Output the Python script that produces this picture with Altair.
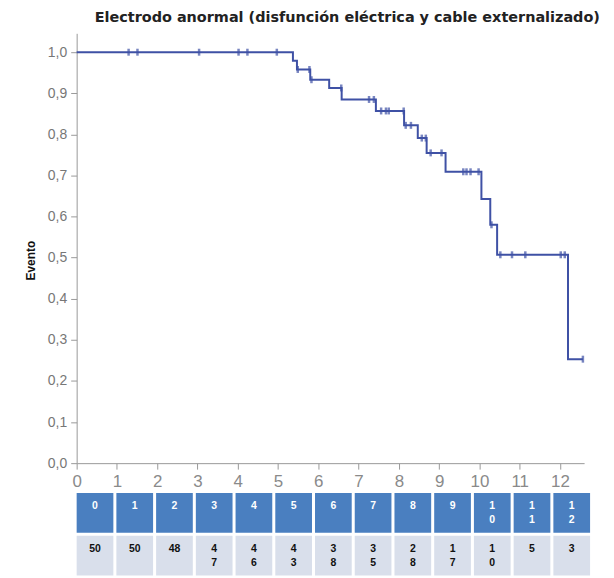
import altair as alt
import pandas as pd

title_text = "Electrodo anormal (disfunción eléctrica y cable externalizado)"
y_title = "Evento"

# Kaplan-Meier step curve (time in years, cumulative probability)
step_times = [0, 5.37, 5.47, 5.80, 6.27, 6.58, 7.43, 8.13, 8.47, 8.69, 9.16,
              10.05, 10.27, 10.44, 12.20, 12.57]
step_surv = [1.0, 0.979, 0.958, 0.933, 0.913, 0.885, 0.857, 0.822, 0.791,
             0.755, 0.709, 0.643, 0.580, 0.507, 0.253, 0.253]

# censored observations
censor_times = [1.29, 1.51, 3.04, 4.02, 4.24, 4.97, 5.49, 5.78, 5.83, 6.57,
                7.26, 7.38, 7.56, 7.68, 7.75, 8.12, 8.17, 8.30, 8.57, 8.67,
                8.79, 9.06, 9.60, 9.68, 9.78, 9.98, 10.30, 10.52, 10.81,
                11.14, 12.02, 12.12, 12.57]

# table under the chart
header_labels = [str(i) for i in range(13)]
at_risk = [50, 50, 48, 47, 46, 43, 38, 35, 28, 17, 10, 5, 3]

x_ticks = list(range(13))
y_ticks = [i / 10 for i in range(11)]

LINE = "#3f51a5"
HEAD = "#4a7fc0"
BODY = "#d9dfeb"


def surv_at(t):
    s = step_surv[0]
    for tt, ss in zip(step_times, step_surv):
        if tt <= t:
            s = ss
    return s


censor_surv = [surv_at(t) for t in censor_times]

km_df = pd.DataFrame({"t": step_times, "s": step_surv})
cens_df = pd.DataFrame({"t": censor_times, "s": censor_surv})


def wrap(txt, col):
    if len(txt) > 1 and col >= 3:
        return "\n".join(list(txt))
    return txt


rows = []
for i, h in enumerate(header_labels):
    rows.append({"col": i, "row": "h", "txt": wrap(h, i)})
for i, v in enumerate(at_risk):
    rows.append({"col": i, "row": "d", "txt": wrap(str(v), i)})
tab_df = pd.DataFrame(rows)

xscale = alt.Scale(domain=[0, 12.6], nice=False, zero=False)
yscale = alt.Scale(domain=[0, 1.046], nice=False)

xaxis = alt.Axis(values=x_ticks, format="d", title=None, labelFontSize=17,
                 labelColor="#8a8a8a", labelFont="Liberation Sans",
                 domainColor="#999", tickColor="#999", tickSize=6,
                 labelPadding=4, grid=False, labelFlush=False)
yaxis = alt.Axis(values=y_ticks,
                 labelExpr="replace(format(datum.value, '.1f'), '.', ',')",
                 title=y_title, titleFont="Liberation Sans", titleFontSize=12,
                 titleFontWeight="bold", titleColor="#111", titleX=-46,
                 titleY=228, titleBaseline="middle", labelFontSize=14,
                 labelFont="Liberation Sans", labelColor="#777",
                 domainColor="#999", tickColor="#999", tickSize=6,
                 labelPadding=4, grid=False)

line = alt.Chart(km_df).mark_line(interpolate="step-after", color=LINE,
                                  strokeWidth=2).encode(
    x=alt.X("t:Q", scale=xscale, axis=xaxis),
    y=alt.Y("s:Q", scale=yscale, axis=yaxis),
)
ticks = alt.Chart(cens_df).mark_tick(orient="vertical", color=LINE, size=7,
                                     thickness=2.5).encode(
    x=alt.X("t:Q", scale=xscale),
    y=alt.Y("s:Q", scale=yscale),
)
km = alt.layer(line, ticks).properties(width=510, height=432)

tx = alt.X("col:O", axis=None,
           scale=alt.Scale(paddingInner=0.076, paddingOuter=0))
ty = alt.Y("row:O", axis=None, sort=["h", "d"],
           scale=alt.Scale(paddingInner=0.07, paddingOuter=0))

cells = alt.Chart(tab_df).mark_rect().encode(
    x=tx, y=ty,
    color=alt.Color("row:N", scale=alt.Scale(domain=["h", "d"],
                                             range=[HEAD, BODY]),
                    legend=None),
)
head_txt = alt.Chart(tab_df).transform_filter(alt.datum.row == "h").mark_text(
    lineBreak="\n", baseline="top", dy=-11.5, font="Liberation Sans",
    fontWeight="bold", fontSize=10.5, lineHeight=14, color="white").encode(
    x=tx, y=ty, text="txt:N")
body_txt = alt.Chart(tab_df).transform_filter(alt.datum.row == "d").mark_text(
    lineBreak="\n", baseline="top", dy=-11.5, font="Liberation Sans",
    fontWeight="bold", fontSize=10.5, lineHeight=14, color="#111").encode(
    x=tx, y=ty, text="txt:N")
table = alt.layer(cells, head_txt, body_txt).properties(width=516, height=83)

chart = alt.vconcat(km, table, spacing=4).properties(
    title=alt.Title(title_text, font="DejaVu Sans", fontSize=14.5,
                    fontWeight="bold", color="#222", anchor="middle", dx=40,
                    offset=8),
    padding={"left": 17, "top": 0, "right": 5, "bottom": 0},
).configure_view(stroke=None)

chart.save("out.html", embed_options={"renderer": "svg", "actions": False})
